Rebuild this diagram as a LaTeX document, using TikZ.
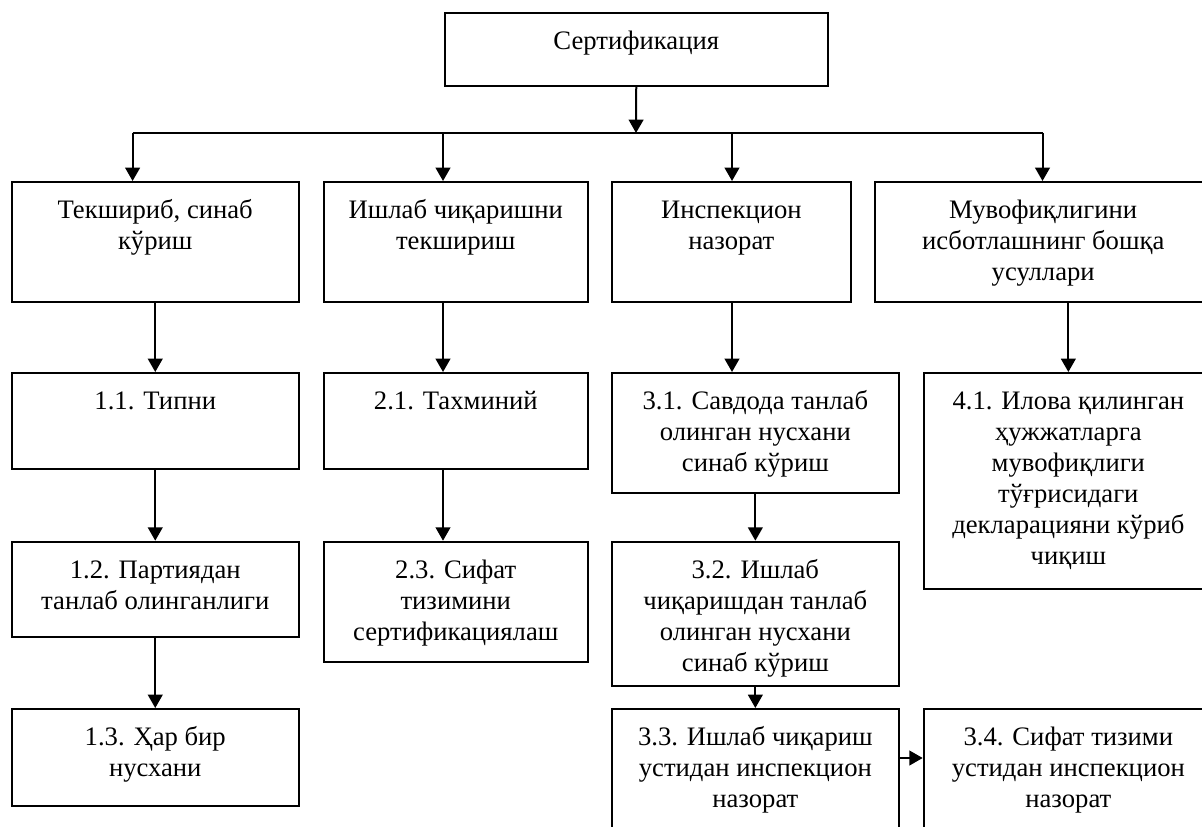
\documentclass[tikz,border=0pt]{standalone}
\usepackage{fontspec}
\setmainfont{Liberation Serif}
\usetikzlibrary{fit,arrows.meta}
\tikzset{
  boxst/.style={draw=black, line width=1.5pt, inner sep=0pt, rectangle},
  txt/.style={anchor=north, inner sep=0pt, align=center, font=\fontsize{20}{23.25}\selectfont},
  arr/.style={line width=1.5pt, -{Triangle[width=11pt,length=10pt]}},
  ln/.style={line width=1.5pt}
}
\newcommand\mybox[6]{%
  \node[boxst, fit={(#2,#3) (#4,#5)}] (#1) {};
  \node[txt] (#1t) at ([yshift=-12pt]#1.north) {\strut #6};
}
\begin{document}
\begin{tikzpicture}[x=0.75pt,y=-0.75pt]
\useasboundingbox (0,0) rectangle (1202,827);
\clip (0,0) rectangle (1202,827);
\fill[white] (0,0) rectangle (1202,827);

\mybox{top}{444.5}{13}{828}{86}{Сертификация}
\mybox{A}{11.5}{182}{299}{302}{Текшириб, синаб\\кўриш}
\mybox{B}{323.5}{182}{588}{302}{Ишлаб чиқаришни\\текшириш}
\mybox{C}{611.7}{182}{851}{302}{Инспекцион\\назорат}
\mybox{D}{875.4}{182}{1211}{302}{Мувофиқлигини\\исботлашнинг бошқа\\усуллари}
\mybox{b11}{11.5}{373}{299}{469}{1.1. Типни}
\mybox{b21}{323.5}{373}{588}{469}{2.1. Тахминий}
\mybox{b31}{611.7}{373}{899}{493}{3.1. Савдода танлаб\\олинган нусхани\\синаб кўриш}
\mybox{b41}{923.7}{373}{1213}{589}{4.1. Илова қилинган\\ҳужжатларга\\мувофиқлиги\\тўғрисидаги\\декларацияни кўриб\\чиқиш}
\mybox{b12}{11.5}{541.7}{299}{637}{1.2. Партиядан\\танлаб олинганлиги}
\mybox{b23}{323.5}{541.7}{588}{661.7}{2.3. Сифат\\тизимини\\сертификациялаш}
\mybox{b32}{611.7}{541.7}{899}{685.7}{3.2. Ишлаб\\чиқаришдан танлаб\\олинган нусхани\\синаб кўриш}
\mybox{b13}{11.5}{709}{299}{805.7}{1.3. Ҳар бир\\нусхани}
\mybox{b33}{611.7}{709}{899}{840}{3.3. Ишлаб чиқариш\\устидан инспекцион\\назорат}
\mybox{b34}{923.7}{709}{1213}{840}{3.4. Сифат тизими\\устидан инспекцион\\назорат}

\coordinate (j) at (636,133);
\coordinate (j1) at (132.6,133);
\coordinate (j2) at (443,133);
\coordinate (j3) at (732,133);
\coordinate (j4) at (1042.5,133);
\coordinate (h) at (899,758);

\draw[arr] (top.south) -- (j);
\draw[ln] (j1) -- (j4);
\draw[arr] (j1) -- (j1 |- A.north);
\draw[arr] (j2) -- (j2 |- B.north);
\draw[arr] (j3) -- (j3 |- C.north);
\draw[arr] (j4) -- (j4 |- D.north);

\draw[arr] (A.south) -- (b11.north);
\draw[arr] (B.south -| j2) -- (b21.north -| j2);
\draw[arr] (j3 |- C.south) -- (j3 |- b31.north);
\draw[arr] (b41.north |- D.south) -- (b41.north);

\draw[arr] (b11.south) -- (b12.north);
\draw[arr] (b12.south) -- (b13.north);
\draw[arr] (b21.south -| j2) -- (b23.north -| j2);
\draw[arr] (b31.south) -- (b32.north);
\draw[arr] (b32.south) -- (b33.north);
\draw[arr] (h) -- (h -| b34.west);
\end{tikzpicture}
\end{document}
